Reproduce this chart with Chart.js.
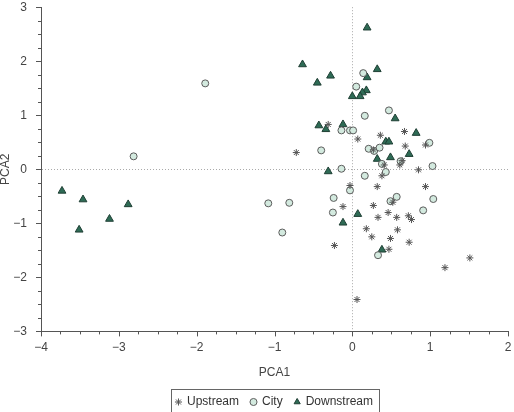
<!DOCTYPE html>
<html>
<head>
<meta charset="utf-8">
<script src="https://cdn.jsdelivr.net/npm/chart.js@4"></script>
<style>
  body { margin: 0; background: #fff; }
  canvas { display: block; }
</style>
</head>
<body>
<canvas id="pcaChart" width="514" height="412"></canvas>
<script>
// Series names
const seriesNames = ['Upstream', 'City', 'Downstream'];

// Upstream (asterisks)
const upstreamPCA1 = [-0.31, 0.67, 0.36, 0.07, 0.68, 0.94, -0.72, 0.27, 0.64, 0.61, 0.41, 0.85, 0.38, -0.03, 0.32, 0.94, 0.52, -0.12, 0.27, 0.46, 0.33, 0.57, 0.72, 0.76, 0.18, 0.58, 0.25, 0.49, 0.73, -0.23, 0.47, 1.51, 1.19, 0.06];
const upstreamPCA2 = [0.83, 0.70, 0.63, 0.56, 0.43, 0.45, 0.31, 0.36, 0.16, 0.08, 0.08, -0.01, -0.12, -0.30, -0.32, -0.32, -0.61, -0.69, -0.67, -0.80, -0.89, -0.89, -0.86, -0.93, -1.10, -1.12, -1.25, -1.28, -1.35, -1.41, -1.48, -1.64, -1.82, -2.41];

// City (circles)
const cityPCA1 = [-1.89, -2.81, -1.08, 0.14, 0.05, 0.47, 0.16, -0.14, -0.03, 0.01, 0.99, -0.40, 0.21, 0.28, 0.35, 0.38, 0.62, 1.03, -0.14, 0.43, 0.16, -0.03, -0.81, -0.24, 0.57, 0.49, 1.04, -0.25, 0.91, -0.90, 0.33];
const cityPCA2 = [1.59, 0.24, -0.63, 1.78, 1.53, 1.09, 0.99, 0.72, 0.72, 0.72, 0.49, 0.35, 0.38, 0.34, 0.40, 0.10, 0.15, 0.06, 0.01, -0.05, -0.12, -0.39, -0.62, -0.53, -0.51, -0.59, -0.55, -0.80, -0.76, -1.17, -1.59];

// Downstream (triangles)
const downstreamPCA1 = [-3.73, -3.46, -2.88, -3.12, -3.51, 0.19, -0.64, -0.28, -0.45, 0.32, 0.19, 0.18, 0.13, 0.00, 0.10, 0.55, -0.43, -0.12, -0.34, 0.82, 0.43, 0.47, 0.73, 0.49, 0.32, -0.31, 0.07, -0.12, 0.38];
const downstreamPCA2 = [-0.40, -0.56, -0.65, -0.92, -1.12, 2.62, 1.94, 1.73, 1.60, 1.85, 1.70, 1.46, 1.42, 1.35, 1.35, 0.94, 0.81, 0.83, 0.74, 0.67, 0.51, 0.51, 0.28, 0.22, 0.19, -0.04, -0.83, -0.99, -1.49];

// Axis ranges and tick step
const xRange = [-4, 2];
const yRange = [-3, 3];
const tickStep = 0.25;

function toPoints(xs, ys) {
    return xs.map((x, i) => ({ x: x, y: ys[i] }));
}

function fmtTick(v) {
    if (!Number.isInteger(v)) return '';
    return v < 0 ? '\u2212' + Math.abs(v) : String(v);
}

const FONT = "'Liberation Sans', Arial, sans-serif";

// outward tick marks, longer for whole numbers
const tickMarks = {
    id: 'tickMarks',
    afterDraw(chart) {
        const ctx = chart.ctx;
        const xs = chart.scales.x;
        const ys = chart.scales.y;
        const area = chart.chartArea;
        ctx.save();
        ctx.strokeStyle = '#555';
        ctx.lineWidth = 1;
        ctx.beginPath();
        xs.ticks.forEach(t => {
            const px = Math.round(xs.getPixelForValue(t.value)) + 0.5;
            const len = Number.isInteger(t.value) ? 5 : 3;
            ctx.moveTo(px, area.bottom);
            ctx.lineTo(px, area.bottom + len);
        });
        ys.ticks.forEach(t => {
            const py = Math.round(ys.getPixelForValue(t.value)) + 0.5;
            const len = Number.isInteger(t.value) ? 5 : 3;
            ctx.moveTo(area.left, py);
            ctx.lineTo(area.left - len, py);
        });
        ctx.stroke();
        ctx.restore();
    }
};

// box around the legend items
const legendBox = {
    id: 'legendBox',
    afterDraw(chart) {
        const boxes = chart.legend.legendHitBoxes;
        if (!boxes || !boxes.length) return;
        const left = Math.min(...boxes.map(b => b.left)) - 5;
        const right = Math.max(...boxes.map(b => b.left + b.width)) + 6;
        const b0 = boxes[0];
        const cy = b0.top + b0.height / 2;
        const ctx = chart.ctx;
        ctx.save();
        ctx.strokeStyle = '#666';
        ctx.lineWidth = 1;
        ctx.strokeRect(Math.round(left) + 0.5, Math.round(cy - 13) + 0.5, Math.round(right - left), 24);
        ctx.restore();
    }
};

const zeroGrid = ctx => ctx.tick && ctx.tick.value === 0 ? '#aaa' : 'rgba(0,0,0,0)';

new Chart(document.getElementById('pcaChart'), {
    type: 'scatter',
    data: {
        datasets: [
            {
                label: seriesNames[0],
                data: toPoints(upstreamPCA1, upstreamPCA2),
                pointStyle: 'star',
                radius: 3.5,
                borderColor: '#555',
                backgroundColor: '#555',
                borderWidth: 1
            },
            {
                label: seriesNames[1],
                data: toPoints(cityPCA1, cityPCA2),
                pointStyle: 'circle',
                radius: 3.5,
                borderColor: '#5c5c5c',
                backgroundColor: '#d3eadf',
                borderWidth: 1
            },
            {
                label: seriesNames[2],
                data: toPoints(downstreamPCA1, downstreamPCA2),
                pointStyle: 'triangle',
                radius: 4.5,
                borderColor: '#1f3f34',
                backgroundColor: '#2e6b55',
                borderWidth: 1
            }
        ]
    },
    options: {
        responsive: false,
        animation: false,
        layout: { padding: { top: 7, right: 6, left: 0, bottom: -6 } },
        plugins: {
            tooltip: { enabled: false },
            legend: {
                position: 'bottom',
                fullSize: false,
                labels: {
                    usePointStyle: true,
                    boxWidth: 5,
                    boxHeight: 5,
                    padding: 12,
                    color: '#333',
                    font: { family: FONT, size: 12 }
                }
            }
        },
        scales: {
            x: {
                type: 'linear',
                min: xRange[0],
                max: xRange[1],
                afterFit: s => { s.height = 52.6; },
                ticks: {
                    stepSize: tickStep,
                    autoSkip: false,
                    maxRotation: 0,
                    padding: 0,
                    color: '#444',
                    font: { family: FONT, size: 12 },
                    callback: v => fmtTick(v)
                },
                grid: { drawTicks: true, tickLength: 9, tickColor: 'rgba(0,0,0,0)', color: zeroGrid, lineWidth: 1 },
                border: { display: true, color: '#555', width: 1, dash: [1, 2] },
                title: {
                    display: true,
                    text: 'PCA1',
                    color: '#444',
                    font: { family: FONT, size: 12 },
                    padding: { top: 0, bottom: 4.4 }
                }
            },
            y: {
                type: 'linear',
                min: yRange[0],
                max: yRange[1],
                afterFit: s => { s.width = 41; },
                ticks: {
                    stepSize: tickStep,
                    autoSkip: false,
                    padding: 0,
                    color: '#444',
                    font: { family: FONT, size: 12 },
                    callback: v => fmtTick(v)
                },
                grid: { drawTicks: true, tickLength: 14, tickColor: 'rgba(0,0,0,0)', color: zeroGrid, lineWidth: 1 },
                border: { display: true, color: '#555', width: 1, dash: [1, 2] },
                title: {
                    display: true,
                    text: 'PCA2',
                    color: '#444',
                    font: { family: FONT, size: 12, lineHeight: 1 },
                    padding: { top: 0, bottom: 0 }
                }
            }
        }
    },
    plugins: [tickMarks, legendBox]
});
</script>
</body>
</html>
